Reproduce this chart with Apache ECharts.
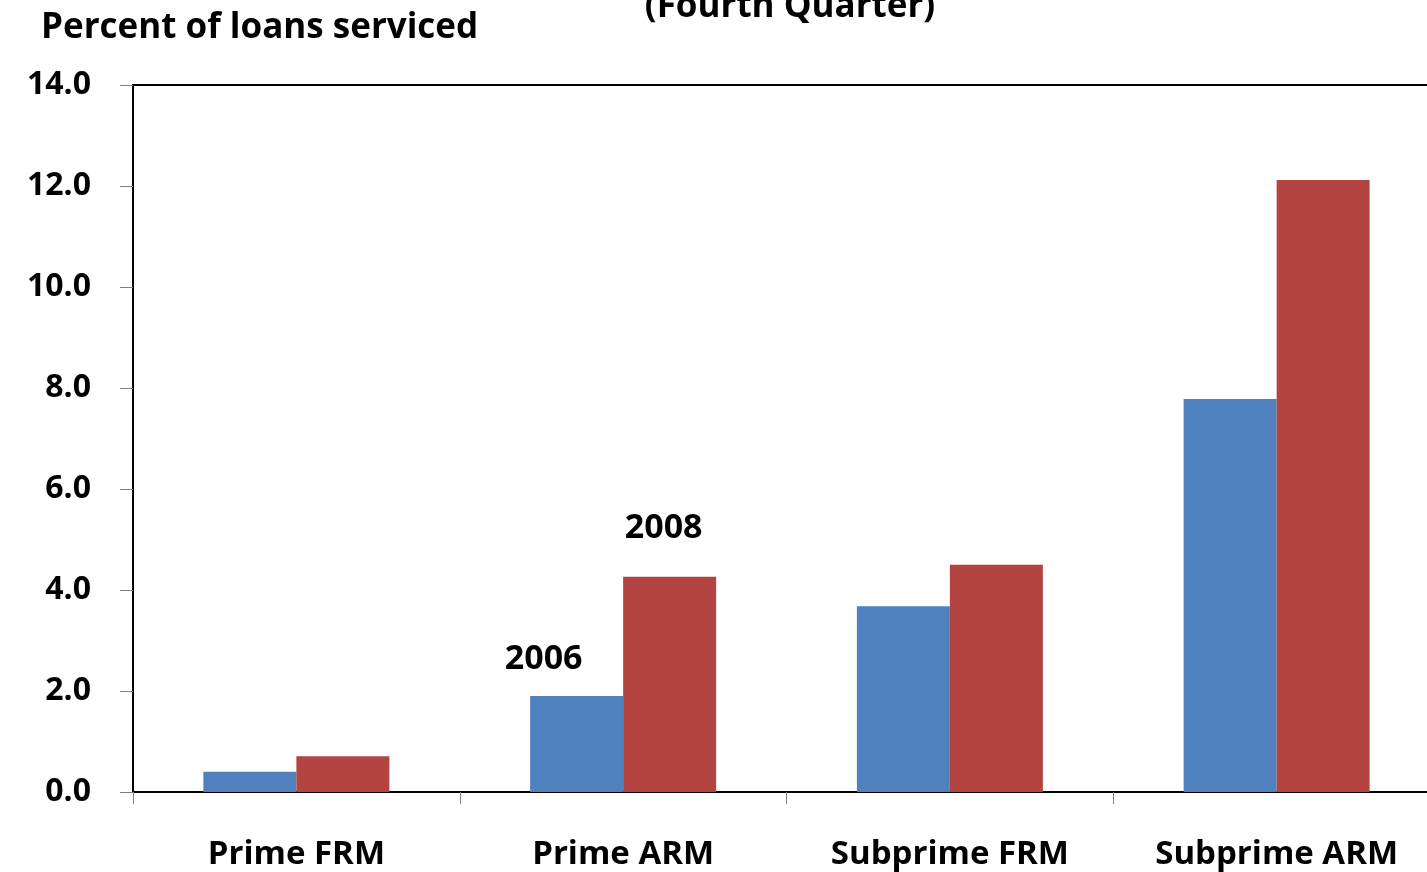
<!DOCTYPE html>
<html>
<head>
<meta charset="utf-8">
<script src="https://cdn.jsdelivr.net/npm/echarts@6/dist/echarts.min.js"></script>
<style>
  html, body { margin: 0; padding: 0; background: #fff; overflow: hidden; }
  #main { width: 1440px; height: 872px; }
</style>
</head>
<body>
<div id="main"></div>
<script>
var categories = ['Prime FRM', 'Prime ARM', 'Subprime FRM', 'Subprime ARM']
var values2006 = [0.40, 1.90, 3.68, 7.78]
var values2008 = [0.71, 4.26, 4.50, 12.12]
var yTicks = [0, 2, 4, 6, 8, 10, 12, 14]

var font = '"Open Sans", "Noto Sans", sans-serif'

function withLabel(values, idx, text, offsetX, dist) {
  return values.map(function (v, i) {
    if (i !== idx) return v
    return {
      value: v,
      label: {
        show: true,
        position: 'top',
        formatter: text,
        offset: [offsetX, 0],
        distance: dist,
        color: '#000',
        fontFamily: font,
        fontWeight: 'bold',
        fontSize: 34
      }
    }
  })
}

var myChart = echarts.init(document.getElementById('main'))
myChart.setOption({
  animation: false,
  backgroundColor: '#fff',
  title: [{
    text: 'Percent of loans serviced',
    left: 36,
    top: 6,
    textStyle: { fontFamily: font, fontWeight: 'bold', fontSize: 35, color: '#000' }
  }, {
    text: '(Fourth Quarter)',
    left: 785,
    textAlign: 'center',
    top: -15,
    textStyle: { fontFamily: font, fontWeight: 'bold', fontSize: 35, color: '#000' }
  }],
  grid: {
    left: 133,
    top: 85,
    right: 0,
    bottom: 80,
    show: true,
    borderColor: '#000',
    borderWidth: 2
  },
  xAxis: {
    type: 'category',
    data: categories,
    axisLine: { lineStyle: { color: '#000', width: 2 } },
    axisTick: { show: true, interval: 0, length: 12, lineStyle: { color: '#808080', width: 1 } },
    axisLabel: {
      interval: 0,
      margin: 46,
      color: '#000',
      fontFamily: font,
      fontWeight: 'bold',
      fontSize: 33
    }
  },
  yAxis: {
    type: 'value',
    min: yTicks[0],
    max: yTicks[yTicks.length - 1],
    interval: 2,
    splitLine: { show: false },
    axisLine: { show: true, lineStyle: { color: '#000', width: 2 } },
    axisTick: { show: true, length: 13, lineStyle: { color: '#808080', width: 1 } },
    axisLabel: {
      margin: 42,
      color: '#000',
      fontFamily: font,
      fontWeight: 'bold',
      fontSize: 32,
      padding: [8, 0, 0, 0],
      formatter: function (v) { return v.toFixed(1) }
    }
  },
  series: [{
    name: '2006',
    type: 'bar',
    barWidth: 93,
    barGap: '0%',
    itemStyle: { color: '#4F81BD' },
    data: withLabel(values2006, 1, '2006', -33, 20)
  }, {
    name: '2008',
    type: 'bar',
    barWidth: 93,
    itemStyle: { color: '#B34442' },
    data: withLabel(values2008, 1, '2008', -6, 32)
  }]
})
</script>
</body>
</html>
